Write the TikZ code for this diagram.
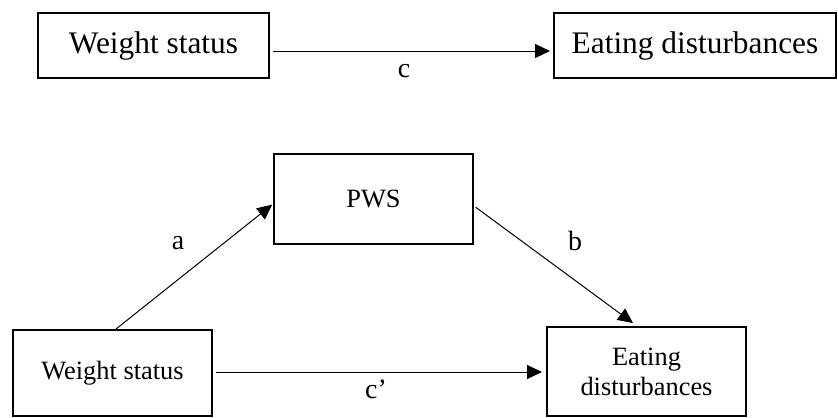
\documentclass[tikz,border=0pt]{standalone}
\usepackage{fontspec}
\setmainfont{Liberation Serif}
\usetikzlibrary{arrows.meta}
\tikzset{
  boxstyle/.style={draw=black, line width=2bp, rectangle, inner sep=0pt, align=center},
  conn/.style={line width=1bp, -{Triangle[length=15bp,width=14bp]}},
  lbl/.style={font=\fontsize{28}{30}\selectfont, inner sep=0pt},
}
\begin{document}
\begin{tikzpicture}[x=1bp,y=-1bp]
\useasboundingbox (0,0) rectangle (838,417);
% top
\node[boxstyle, minimum width=231bp, minimum height=65bp, font=\fontsize{31.5}{34}\selectfont] (ws1) at (153.5,45.5) {Weight status};
\node[boxstyle, minimum width=282bp, minimum height=65bp, font=\fontsize{31.5}{34}\selectfont] (ed1) at (695,45.5) {Eating disturbances};
\draw[conn, shorten <=3bp, shorten >=3bp] ([yshift=-5.5bp]ws1.east) -- ([yshift=-5.5bp]ed1.west);
\node[lbl] (lc) at (404,71) {c};
% bottom
\node[boxstyle, minimum width=199bp, minimum height=90bp, font=\fontsize{26.5}{30}\selectfont] (pws) at (373.5,199) {PWS};
\node[boxstyle, minimum width=199bp, minimum height=86bp, font=\fontsize{26.5}{30}\selectfont] (ws2) at (112.5,373) {Weight status};
\node[boxstyle, minimum width=199bp, minimum height=89bp, font=\fontsize{26.5}{30}\selectfont] (ed2) at (646.5,371.5) {Eating\\disturbances};
\draw[conn, shorten >=1bp] ([xshift=3.5bp]ws2.north) -- ([yshift=-5bp]pws.west);
\draw[conn, shorten <=2bp, shorten >=5bp] ([yshift=-7bp]pws.east) -- ([xshift=-9.5bp]ed2.north);
\draw[conn, shorten <=3bp, shorten >=4bp] (ws2.east |- 0,372) -- (ed2.west |- 0,372);
\node[lbl] (la) at (178,243) {a};
\node[lbl] (lb) at (575,241) {b};
\node[lbl] (lcp) at (376,389) {c’};
\end{tikzpicture}
\end{document}
